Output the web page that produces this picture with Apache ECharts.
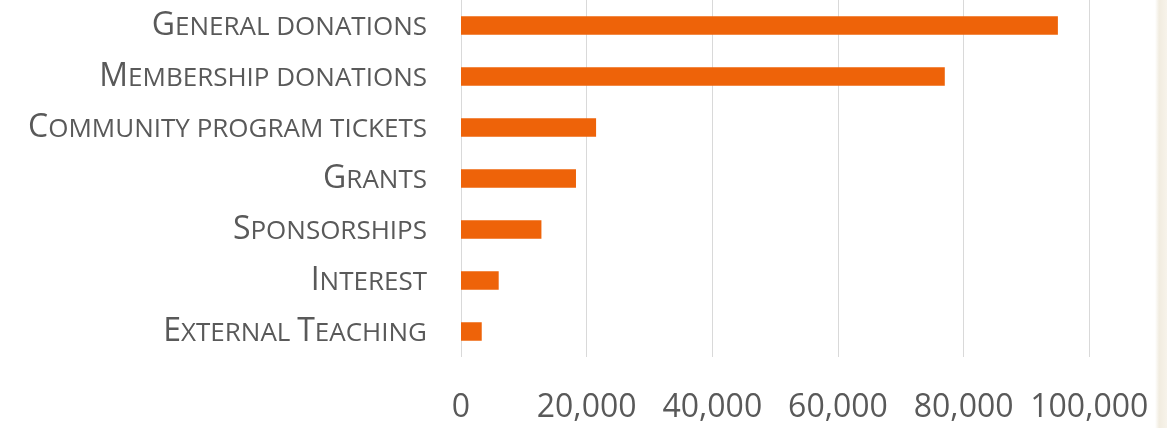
<!DOCTYPE html>
<html>
<head>
<meta charset="utf-8">
<script src="https://cdn.jsdelivr.net/npm/echarts@6/dist/echarts.min.js"></script>
<style>
html,body{margin:0;padding:0;background:#fff;}
#chart{width:1167px;height:428px;}
</style>
</head>
<body>
<div id="chart"></div>
<script>
const categories = ["General donations", "Membership donations", "Community program tickets", "Grants", "Sponsorships", "Interest", "External Teaching"];
const values = [95000, 77000, 21500, 18300, 12800, 6000, 3300];
const tickValues = [0, 20000, 40000, 60000, 80000, 100000];

function smallCaps(s) {
  let out = '';
  let buf = '';
  let mode = null;
  for (const ch of s) {
    const isCap = ch !== ' ' && ch === ch.toUpperCase() && ch !== ch.toLowerCase();
    const m = isCap ? 'big' : 'sm';
    if (mode !== null && m !== mode) {
      out += '{' + mode + '|' + buf + '}';
      buf = '';
    }
    mode = m;
    buf += ch.toUpperCase();
  }
  if (buf) out += '{' + mode + '|' + buf + '}';
  return out;
}

const chart = echarts.init(document.getElementById('chart'));
chart.setOption({
  animation: false,
  backgroundColor: '#ffffff',
  graphic: [{
    type: 'rect',
    right: 0, top: 0,
    shape: {width: 12, height: 428},
    style: {fill: new echarts.graphic.LinearGradient(0, 0, 1, 0, [
      {offset: 0, color: '#ffffff'}, {offset: 0.35, color: '#F1ECE0'}, {offset: 1, color: '#F7F3EA'}])},
    silent: true, z: -1
  }],
  grid: {left: 461, right: 77.7, top: -2, bottom: 71, containLabel: false},
  xAxis: {
    type: 'value',
    min: 0, max: 100000, interval: 20000,
    axisLine: {show: false},
    axisTick: {show: false},
    splitLine: {show: true, lineStyle: {color: '#D9D9D9', width: 1}},
    axisLabel: {
      margin: 35,
      color: '#595959',
      fontFamily: 'Open Sans',
      fontSize: 32,
      formatter: function (v) { return tickValues.indexOf(v) >= 0 ? v.toLocaleString('en-US') : ''; }
    }
  },
  yAxis: {
    type: 'category',
    data: categories,
    inverse: true,
    axisLine: {show: false},
    axisTick: {show: false},
    splitLine: {show: false},
    axisLabel: {
      margin: 34,
      formatter: function (v) { return smallCaps(v); },
      rich: {
        big: {fontFamily: 'Open Sans', fontSize: 32, color: '#595959', lineHeight: 32, verticalAlign: 'bottom'},
        sm: {fontFamily: 'Open Sans', fontSize: 26, color: '#595959', lineHeight: 26, verticalAlign: 'bottom', padding: [0, 0, 1, 0]}
      }
    }
  },
  series: [{
    type: 'bar',
    data: values,
    barWidth: 18.5,
    itemStyle: {color: '#EE6309'}
  }]
});
</script>
</body>
</html>
